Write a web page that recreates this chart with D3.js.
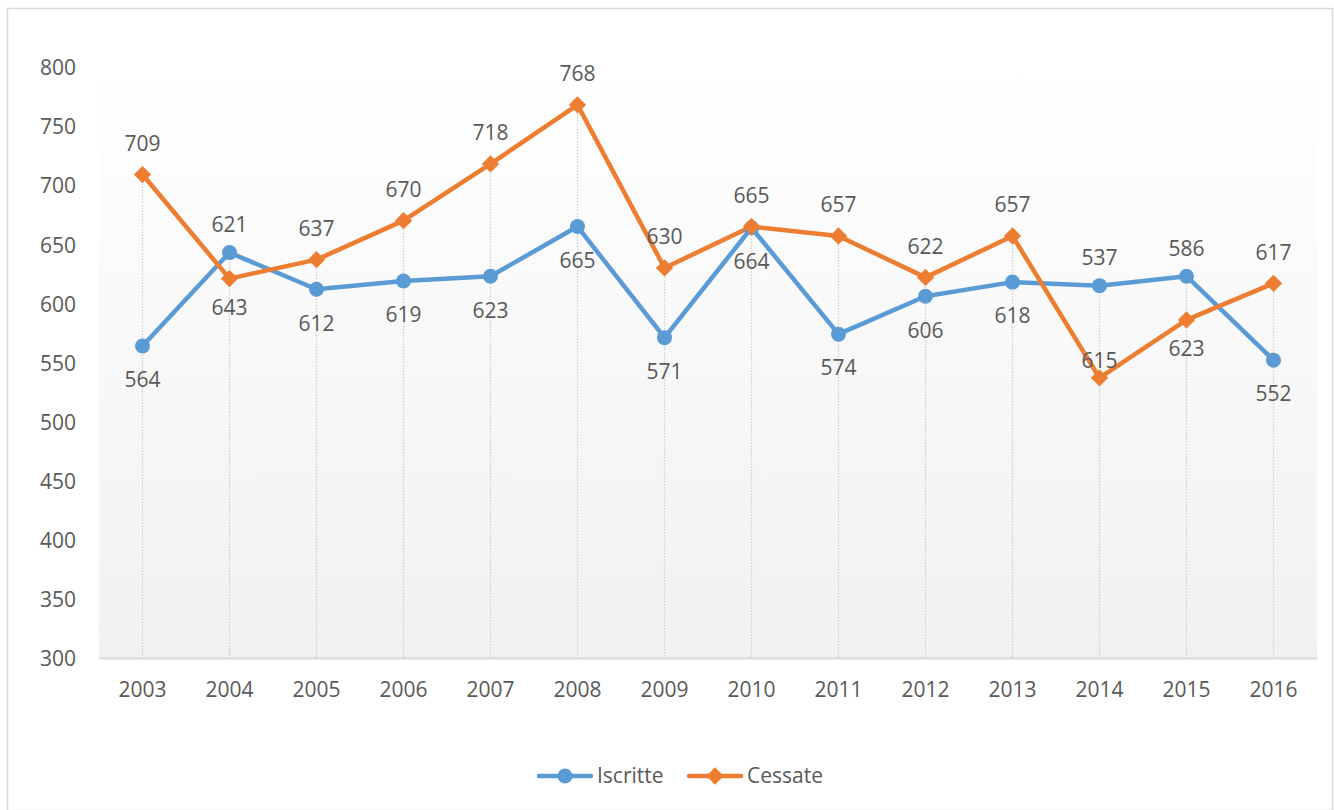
<!DOCTYPE html>
<html>
<head>
<meta charset="utf-8">
<script src="https://cdn.jsdelivr.net/npm/d3@7"></script>
<style>
  body { margin: 0; background: #fff; }
  text { font-family: "Open Sans", sans-serif; fill: #595959; }
</style>
</head>
<body>
<div id="content"></div>
<script>
// data
var years = ["2003", "2004", "2005", "2006", "2007", "2008", "2009",
             "2010", "2011", "2012", "2013", "2014", "2015", "2016"];
var iscritte = [564, 643, 612, 619, 623, 665, 571, 664, 574, 606, 618, 615, 623, 552];
var cessate = [709, 621, 637, 670, 718, 768, 630, 665, 657, 622, 657, 537, 586, 617];
var yTicks = [300, 350, 400, 450, 500, 550, 600, 650, 700, 750, 800];

var W = 1334, H = 810;
var blue = "#5b9bd5", orange = "#ed7d31";
var fontSize = 21;

var xScale = d3.scaleBand().domain(years).range([99, 1317]),
    yScale = d3.scaleLinear().domain([300, 800]).range([658, 67]);

function cx(d, i) { return xScale(years[i]) + xScale.bandwidth() / 2; }

var svg = d3.select("#content").append("svg")
    .attr("width", W)
    .attr("height", H);

// chart border
svg.append("rect")
    .attr("x", 7.5).attr("y", 8.5)
    .attr("width", W - 9).attr("height", H - 8)
    .attr("fill", "#fff")
    .attr("stroke", "#d9d9d9")
    .attr("stroke-width", 1.5);

var grad = svg.append("defs").append("linearGradient")
    .attr("id", "plotbg")
    .attr("x1", 0).attr("y1", 0).attr("x2", 0).attr("y2", 1);
grad.append("stop").attr("offset", "0%").attr("stop-color", "#ffffff");
grad.append("stop").attr("offset", "100%").attr("stop-color", "#f1f1f1");

svg.append("rect")
    .attr("x", xScale.range()[0])
    .attr("y", yScale(800))
    .attr("width", xScale.range()[1] - xScale.range()[0])
    .attr("height", yScale(300) - yScale(800))
    .attr("fill", "url(#plotbg)");

// y axis
var yAxis = d3.axisLeft(yScale).tickValues(yTicks).tickSize(0).tickPadding(0);
var gy = svg.append("g")
    .attr("class", "y axis")
    .attr("transform", "translate(76,1)")
    .call(yAxis);
gy.select(".domain").remove();
gy.selectAll("text").style("font-size", fontSize + "px").attr("fill", "#595959");

// drop lines from the higher point
svg.append("g").selectAll("line")
    .data(years)
    .enter().append("line")
    .attr("x1", function(d, i) { return cx(d, i); })
    .attr("x2", function(d, i) { return cx(d, i); })
    .attr("y1", function(d, i) { return yScale(Math.max(iscritte[i], cessate[i])); })
    .attr("y2", yScale(300))
    .attr("stroke", "#cfcfcf")
    .attr("stroke-width", 1.3)
    .attr("stroke-dasharray", "1.5,1.5");

// x axis
var xAxis = d3.axisBottom(xScale).tickSize(0).tickSizeOuter(0).tickPadding(24);
var gx = svg.append("g")
    .attr("class", "x axis")
    .attr("transform", "translate(0," + yScale(300) + ")")
    .call(xAxis);
gx.select(".domain").attr("stroke", "#d9d9d9").attr("stroke-width", 2);
gx.selectAll("text").style("font-size", fontSize + "px").attr("fill", "#595959");

var line = d3.line()
    .x(function(d, i) { return cx(d, i); })
    .y(function(d) { return yScale(d); });

// series lines
svg.append("path")
    .datum(iscritte)
    .attr("d", line)
    .attr("fill", "none")
    .attr("stroke", blue)
    .attr("stroke-width", 4.5)
    .attr("stroke-linejoin", "round")
    .attr("stroke-linecap", "round");

svg.append("path")
    .datum(cessate)
    .attr("d", line)
    .attr("fill", "none")
    .attr("stroke", orange)
    .attr("stroke-width", 4.5)
    .attr("stroke-linejoin", "round")
    .attr("stroke-linecap", "round");

// markers
svg.append("g").selectAll("circle")
    .data(iscritte)
    .enter().append("circle")
    .attr("cx", cx)
    .attr("cy", function(d) { return yScale(d); })
    .attr("r", 7.5)
    .attr("fill", blue);

var diamond = d3.symbol().type(d3.symbolSquare).size(150);
svg.append("g").selectAll("path")
    .data(cessate)
    .enter().append("path")
    .attr("d", diamond)
    .attr("transform", function(d, i) {
        return "translate(" + cx(d, i) + "," + yScale(d) + ") rotate(45)"; })
    .attr("fill", orange);

// data labels: Cessate above the upper point, Iscritte below
function labelYCess(i) {
    var b = yScale(iscritte[i]), o = yScale(cessate[i]);
    if (o <= b) return o - 31;
    return b - 28;
}
function labelYIscr(i) {
    var b = yScale(iscritte[i]), o = yScale(cessate[i]);
    if (o <= b) return b + 34;
    return Math.min(o + 29, b + 75);
}

svg.append("g").selectAll("text")
    .data(cessate)
    .enter().append("text")
    .attr("x", cx)
    .attr("y", function(d, i) { return labelYCess(i); })
    .attr("dy", "0.35em")
    .attr("text-anchor", "middle")
    .style("font-size", fontSize + "px")
    .text(function(d) { return d; });

svg.append("g").selectAll("text")
    .data(iscritte)
    .enter().append("text")
    .attr("x", cx)
    .attr("y", function(d, i) { return labelYIscr(i); })
    .attr("dy", "0.35em")
    .attr("text-anchor", "middle")
    .style("font-size", fontSize + "px")
    .text(function(d) { return d; });

// legend
var legendItems = [
    { name: "Iscritte", color: blue, marker: "circle", x: 539 },
    { name: "Cessate", color: orange, marker: "diamond", x: 689 }
];
var legendY = 776;
var lg = svg.append("g").attr("class", "legend")
    .selectAll("g")
    .data(legendItems)
    .enter().append("g")
    .attr("transform", function(d) { return "translate(" + d.x + "," + legendY + ")"; });

lg.append("line")
    .attr("x1", 0).attr("x2", 52)
    .attr("y1", 0).attr("y2", 0)
    .attr("stroke", function(d) { return d.color; })
    .attr("stroke-width", 4.5)
    .attr("stroke-linecap", "round");

lg.each(function(d) {
    var g = d3.select(this);
    if (d.marker === "circle") {
        g.append("circle").attr("cx", 26).attr("cy", 0).attr("r", 7.5).attr("fill", d.color);
    } else {
        g.append("path").attr("d", diamond)
            .attr("transform", "translate(26,0) rotate(45)")
            .attr("fill", d.color);
    }
});

lg.append("text")
    .attr("x", 58)
    .attr("y", 0)
    .attr("dy", "0.35em")
    .style("font-size", fontSize + "px")
    .text(function(d) { return d.name; });
</script>
</body>
</html>
